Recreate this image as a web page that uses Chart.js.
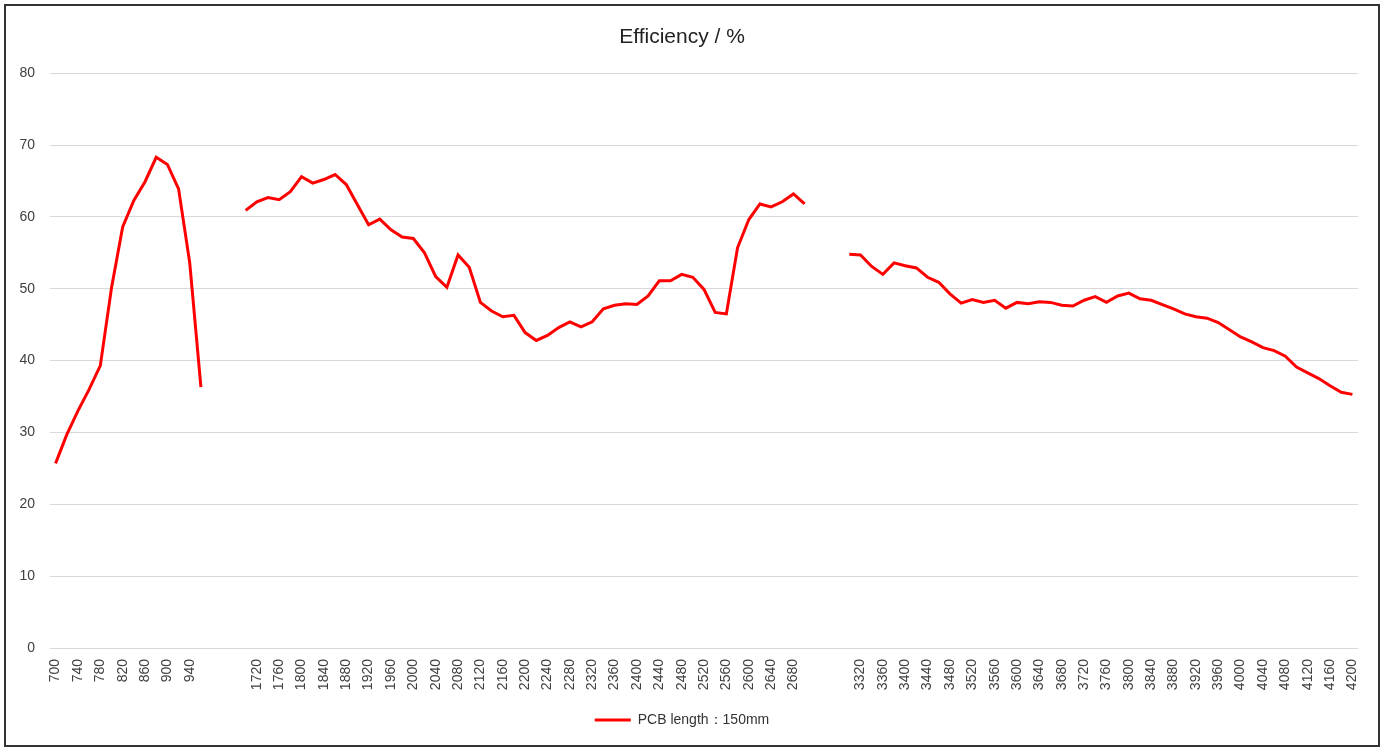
<!DOCTYPE html>
<html>
<head>
<meta charset="utf-8">
<title>Efficiency / %</title>
<script src="https://cdn.jsdelivr.net/npm/chart.js@4.4.1/dist/chart.umd.min.js"></script>
<style>
    html, body { margin: 0; padding: 0; background: #ffffff; }
    #marco {
        position: absolute;
        left: 4px; top: 4px;
        width: 1372px; height: 739px;
        border: 2px solid #333333;
        background: #ffffff;
    }
    #grafico-eficiencia { display: block; }
</style>
</head>
<body>
<div id="marco"><canvas id="grafico-eficiencia"></canvas></div>
<script>
// ===========================================================
// efficiency chart: three frequency ranges of one series,
// drawn on a single category axis with empty slots between
// the ranges so the line breaks.
// ===========================================================

// first range, 700 .. 960
const labels_tramo_1 = [700, 720, 740, 760, 780, 800, 820, 840, 860, 880, 900, 920, 940, 960];
const valores_tramo_1 = [25.7, 29.7, 33.0, 36.0, 39.3, 50.1, 58.6, 62.3, 64.9, 68.3, 67.3, 63.9, 53.6, 36.3];

// second range, 1700 .. 2700
const labels_tramo_2 = [
    1700, 1720, 1740, 1760, 1780, 1800, 1820, 1840, 1860, 1880,
    1900, 1920, 1940, 1960, 1980, 2000, 2020, 2040, 2060, 2080,
    2100, 2120, 2140, 2160, 2180, 2200, 2220, 2240, 2260, 2280,
    2300, 2320, 2340, 2360, 2380, 2400, 2420, 2440, 2460, 2480,
    2500, 2520, 2540, 2560, 2580, 2600, 2620, 2640, 2660, 2680,
    2700
];
const valores_tramo_2 = [
    60.9, 62.1, 62.7, 62.4, 63.5, 65.6, 64.7, 65.2, 65.9, 64.5,
    61.7, 58.9, 59.7, 58.2, 57.2, 57.0, 55.0, 51.7, 50.2, 54.7,
    53.0, 48.1, 46.9, 46.1, 46.3, 43.9, 42.8, 43.5, 44.6, 45.4,
    44.7, 45.4, 47.2, 47.7, 47.9, 47.8, 49.0, 51.1, 51.1, 52.0,
    51.6, 49.9, 46.7, 46.5, 55.7, 59.6, 61.8, 61.4, 62.1, 63.2,
    61.8
];

// third range, 3300 .. 4200
const labels_tramo_3 = [
    3300, 3320, 3340, 3360, 3380, 3400, 3420, 3440, 3460, 3480,
    3500, 3520, 3540, 3560, 3580, 3600, 3620, 3640, 3660, 3680,
    3700, 3720, 3740, 3760, 3780, 3800, 3820, 3840, 3860, 3880,
    3900, 3920, 3940, 3960, 3980, 4000, 4020, 4040, 4060, 4080,
    4100, 4120, 4140, 4160, 4180, 4200
];
const valores_tramo_3 = [
    54.8, 54.7, 53.1, 52.0, 53.6, 53.2, 52.9, 51.6, 50.9, 49.3,
    48.0, 48.5, 48.1, 48.4, 47.3, 48.1, 47.9, 48.2, 48.1, 47.7,
    47.6, 48.4, 48.9, 48.1, 49.0, 49.4, 48.6, 48.4, 47.8, 47.2,
    46.5, 46.1, 45.9, 45.3, 44.3, 43.3, 42.6, 41.8, 41.4, 40.6,
    39.1, 38.3, 37.5, 36.5, 35.6, 35.3
];

// empty slots between the ranges (no label, no value)
const hueco_labels = ['', '', ''];
const hueco_valores = [null, null, null];

const nombre_serie = 'PCB length\uFF1A150mm';
const titulo = 'Efficiency / %';
const ticks_y = [0, 10, 20, 30, 40, 50, 60, 70, 80];

// the category axis and the series are put together from the pieces
const labels_x = [].concat(labels_tramo_1, hueco_labels, labels_tramo_2, hueco_labels, labels_tramo_3);
const valores = [].concat(valores_tramo_1, hueco_valores, valores_tramo_2, hueco_valores, valores_tramo_3);

const fuente = "'Liberation Sans', Arial, sans-serif";

// -----------------------------------------------------------
// crear_grafico: builds the line chart once
// -----------------------------------------------------------
function crear_grafico() {
    const contexto = document.getElementById('grafico-eficiencia').getContext('2d');

    new Chart(contexto, {
        type: 'line',
        data: {
            labels: labels_x,
            datasets: [{
                label: nombre_serie,
                data: valores,
                borderColor: '#ff0000',
                backgroundColor: '#ff0000',
                borderWidth: 3,
                pointRadius: 0,
                pointHoverRadius: 0,
                pointStyle: 'line',
                tension: 0,
                spanGaps: false
            }]
        },
        options: {
            responsive: true,
            maintainAspectRatio: false,
            animation: false,
            layout: { padding: { left: 0, right: 20, top: 0, bottom: 8 } },
            plugins: {
                title: {
                    display: true,
                    text: titulo,
                    color: '#222222',
                    font: { family: fuente, size: 21, weight: 'normal' },
                    padding: { top: 19, bottom: 23 }
                },
                legend: {
                    position: 'bottom',
                    labels: {
                        color: '#333333',
                        font: { family: fuente, size: 14 },
                        usePointStyle: true,
                        pointStyle: 'line',
                        pointStyleWidth: 36,
                        padding: 10
                    }
                },
                tooltip: { enabled: false }
            },
            scales: {
                x: {
                    type: 'category',
                    offset: true,
                    grid: { display: false },
                    border: { display: false },
                    ticks: {
                        autoSkip: false,
                        maxRotation: 90,
                        minRotation: 90,
                        padding: 3,
                        color: '#404040',
                        font: { family: fuente, size: 14 },
                        // only every second category gets its label
                        callback: function (valor, indice) {
                            return indice % 2 === 0 ? this.getLabelForValue(valor) : '';
                        }
                    },
                    afterFit: function (escala) { escala.height = 55; }
                },
                y: {
                    min: 0,
                    max: 80,
                    afterBuildTicks: function (escala) {
                        escala.ticks = ticks_y.map(v => ({ value: v }));
                    },
                    grid: { color: '#d9d9d9', lineWidth: 1, drawTicks: false },
                    border: { display: false },
                    ticks: {
                        padding: 15,
                        color: '#404040',
                        font: { family: fuente, size: 14 }
                    },
                    afterFit: function (escala) { escala.width = 44; }
                }
            }
        }
    });
}

crear_grafico();
</script>
</body>
</html>
